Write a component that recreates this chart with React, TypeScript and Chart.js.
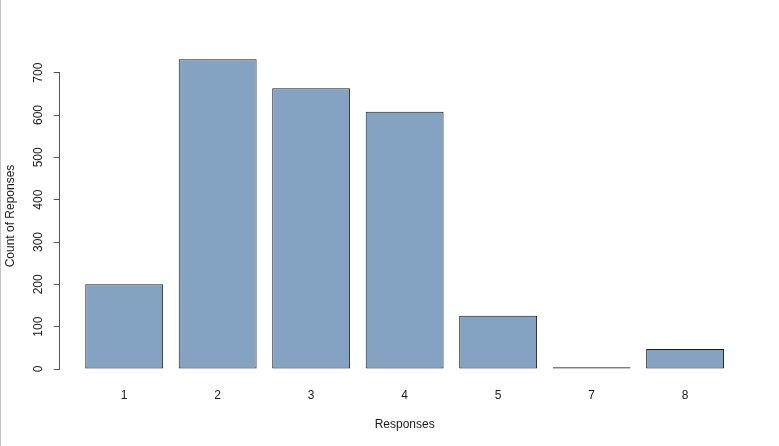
import React, { useEffect, useRef } from "react";
import { Chart, registerables } from "chart.js";

Chart.register(...registerables);

const categories: string[] = ["1", "2", "3", "4", "5", "7", "8"];
const counts: number[] = [200, 732, 663, 608, 126, 4, 47];
const yTicks: number[] = [0, 100, 200, 300, 400, 500, 600, 700];
const xTitle = "Responses";
const yTitle = "Count of Reponses";

const FONT = "'Liberation Sans', Arial, sans-serif";

export default function App() {
  const ref = useRef<HTMLCanvasElement | null>(null);

  useEffect(() => {
    document.body.style.margin = "0";
    const canvas = ref.current;
    if (!canvas) return;
    // barplot layout: width 1, space 0.2 (R style)
    const positions = categories.map((_, i) => 0.7 + 1.2 * i);
    const span = positions[positions.length - 1] + 0.5 - 0.2;
    const xMin = 0.2 - 0.04 * span;
    const xMax = positions[positions.length - 1] + 0.5 + 0.04 * span;

    const yTitlePlugin = {
      id: "yTitlePlugin",
      afterDraw(c: any) {
        const ctx = c.ctx;
        ctx.save();
        ctx.translate(10.5, 216);
        ctx.rotate(-Math.PI / 2);
        ctx.textAlign = "center";
        ctx.textBaseline = "middle";
        ctx.fillStyle = "#1a1a1a";
        ctx.font = `12px ${FONT}`;
        ctx.fillText(yTitle, 0, 0);
        ctx.restore();
      },
    };

    const chart = new Chart(canvas, {
      type: "bar",
      data: {
        datasets: [
          {
            data: counts.map((v, i) => ({ x: positions[i], y: v })),
            backgroundColor: "#84A2C1",
            borderColor: "#1a1a1a",
            borderWidth: 1,
            borderSkipped: false,
            categoryPercentage: 1,
            barPercentage: 1 / 1.2,
            clip: false as any,
          },
        ],
      },
      options: {
        responsive: false,
        animation: false,
        layout: { padding: { top: 72.7, right: 29.4, bottom: 0, left: 0 } },
        plugins: { legend: { display: false }, tooltip: { enabled: false } },
        scales: {
          x: {
            type: "linear",
            offset: false,
            min: xMin,
            max: xMax,
            grid: { display: false, drawTicks: false },
            border: { display: false },
            afterBuildTicks: (scale: any) => {
              scale.ticks = positions.map((p) => ({ value: p }));
            },
            afterFit: (scale: any) => {
              scale.height = 446 - 369;
            },
            ticks: {
              autoSkip: false,
              padding: 19,
              maxRotation: 0,
              color: "#1a1a1a",
              font: { family: FONT, size: 12 },
              callback: (value: any) => {
                const idx = positions.findIndex((p) => Math.abs(p - Number(value)) < 1e-6);
                return idx >= 0 ? categories[idx] : "";
              },
            },
            title: {
              display: true,
              text: xTitle,
              color: "#1a1a1a",
              font: { family: FONT, size: 12 },
              padding: { top: 0, bottom: 14 },
            },
          },
          y: {
            type: "linear",
            min: yTicks[0],
            max: yTicks[yTicks.length - 1],
            grid: {
              display: true,
              drawOnChartArea: false,
              drawTicks: true,
              tickLength: 6,
              color: "#555",
              lineWidth: 1,
            },
            border: { display: true, color: "#555", width: 1 },
            afterBuildTicks: (scale: any) => {
              scale.ticks = yTicks.map((v) => ({ value: v }));
            },
            afterFit: (scale: any) => {
              scale.width = 59.7;
            },
            ticks: {
              autoSkip: false,
              minRotation: 90,
              maxRotation: 90,
              crossAlign: "center",
              padding: 5,
              color: "#1a1a1a",
              font: { family: FONT, size: 12 },
            },
            title: { display: false },
          },
        },
      },
      plugins: [yTitlePlugin],
    });
    return () => chart.destroy();
  }, []);

  return (
    <div style={{ position: "fixed", left: 0, top: 0, width: 779, height: 446, background: "#fff" }}>
      <canvas ref={ref} width={779} height={446} style={{ display: "block" }} />
      <div style={{ position: "absolute", left: 0, top: 0, width: 1, height: 446, background: "#c4c4c4" }} />
    </div>
  );
}
